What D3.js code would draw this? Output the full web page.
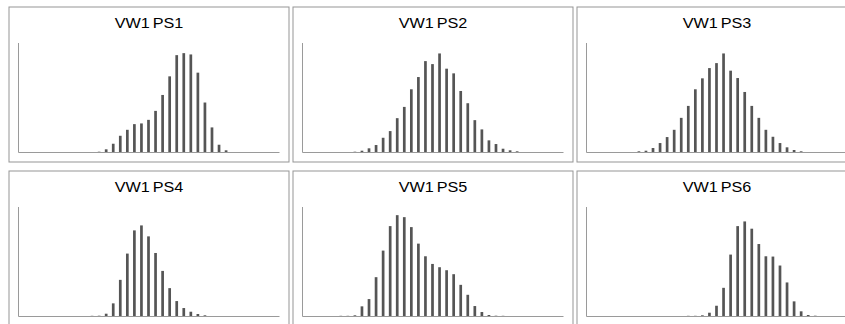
<!DOCTYPE html>
<html>
<head>
<meta charset="utf-8">
<script src="https://cdn.jsdelivr.net/npm/d3@7"></script>
<style>
  body { margin: 0; background: #fff; overflow: hidden; }
  svg { display: block; }
</style>
</head>
<body>
<div id="chart"></div>
<script>
// score bins 0..36 (no tick labels shown on the chart)
const bins = ["0","1","2","3","4","5","6","7","8","9","10","11","12","13","14","15","16","17","18",
  "19","20","21","22","23","24","25","26","27","28","29","30","31","32","33","34","35","36"];

const titles = ["VW1 PS1", "VW1 PS2", "VW1 PS3", "VW1 PS4", "VW1 PS5", "VW1 PS6"];

// counts per bin, one array per panel
const ps1 = [0,0,0,0,0,0,0,0,0,0,0,3,27,83,163,223,280,287,323,413,573,760,973,993,980,797,497,247,73,17,0,0,0,0,0,0,0];
const ps2 = [0,0,0,0,0,0,0,3,13,37,70,143,210,340,453,630,753,913,883,990,837,790,613,490,320,227,117,80,33,17,7,0,0,0,0,0,0];
const ps3 = [0,0,0,0,0,0,0,7,13,40,90,150,223,343,463,630,740,843,893,990,817,743,603,463,343,223,153,90,47,20,7,0,0,0,0,0,0];
const ps4 = [0,0,0,0,0,0,0,0,0,0,2,3,23,127,363,627,860,910,800,633,453,280,150,80,43,20,7,0,0,0,0,0,0,0,0,0,0];
const ps5 = [0,0,0,0,0,2,2,7,97,170,390,657,903,1013,993,893,727,600,523,490,460,420,313,213,100,40,10,3,2,0,0,0,0,0,0,0,0];
const ps6 = [0,0,0,0,0,0,0,0,0,0,0,0,0,0,2,2,7,33,103,283,617,903,950,877,723,600,597,507,337,147,47,10,3,0,0,0,0];

const series = [ps1, ps2, ps3, ps4, ps5, ps6];
const yMax = 1100;

const W = 845, H = 324;
const panelW = 280, panelH = 155;
const colStep = 284, rowStep = 164;
const left0 = 9, top0 = 7;
const plot = { left: 9, top: 35.5, width: 261, height: 109.5 };

const svg = d3.select("#chart").append("svg")
  .attr("width", W)
  .attr("height", H);

// shared scales
const x = d3.scaleBand().domain(bins).range([0, plot.width]);
const y = d3.scaleLinear().domain([0, yMax]).range([plot.height, 0]);
const barW = 2.7;

series.forEach(function(vals, k) {
  const col = k % 3, row = Math.floor(k / 3);
  const px = left0 + col * colStep, py = top0 + row * rowStep;

  const panel = svg.append("g")
    .attr("transform", "translate(" + px + "," + py + ")");

  // panel border
  panel.append("rect")
    .attr("x", 0)
    .attr("y", 0)
    .attr("width", panelW)
    .attr("height", panelH)
    .attr("fill", "none")
    .attr("stroke", "#959595")
    .attr("stroke-width", 1);

  // title (source picture is stretched sideways a little)
  panel.append("g")
    .attr("transform", "translate(" + (panelW / 2) + ",20.5) scale(1.08,1)")
    .append("text")
    .attr("text-anchor", "middle")
    .attr("font-family", "'Liberation Sans', Arial, sans-serif")
    .attr("font-size", 15)
    .attr("word-spacing", -1.5)
    .attr("fill", "#000")
    .text(titles[k]);

  const g = panel.append("g")
    .attr("transform", "translate(" + plot.left + "," + plot.top + ")");

  g.selectAll("rect")
    .data(vals.map(function(v, i) { return { bin: bins[i], value: v }; }).filter(function(d) { return d.value > 0; }))
    .enter().append("rect")
    .attr("x", d => x(d.bin) + x.bandwidth() / 2 - barW / 2)
    .attr("y", d => y(d.value))
    .attr("width", barW)
    .attr("height", d => plot.height - y(d.value))
    .attr("fill", "#555");

  // axis lines, no ticks
  const xAxis = g.append("g")
    .attr("transform", "translate(0," + plot.height + ")")
    .call(d3.axisBottom(x).tickSize(0).tickFormat(""));
  const yAxis = g.append("g")
    .call(d3.axisLeft(y).tickSize(0).tickValues([]));
  [xAxis, yAxis].forEach(function(a) {
    a.select(".domain").attr("stroke", "#9a9a9a");
    a.selectAll(".tick").remove();
  });
});
</script>
</body>
</html>
